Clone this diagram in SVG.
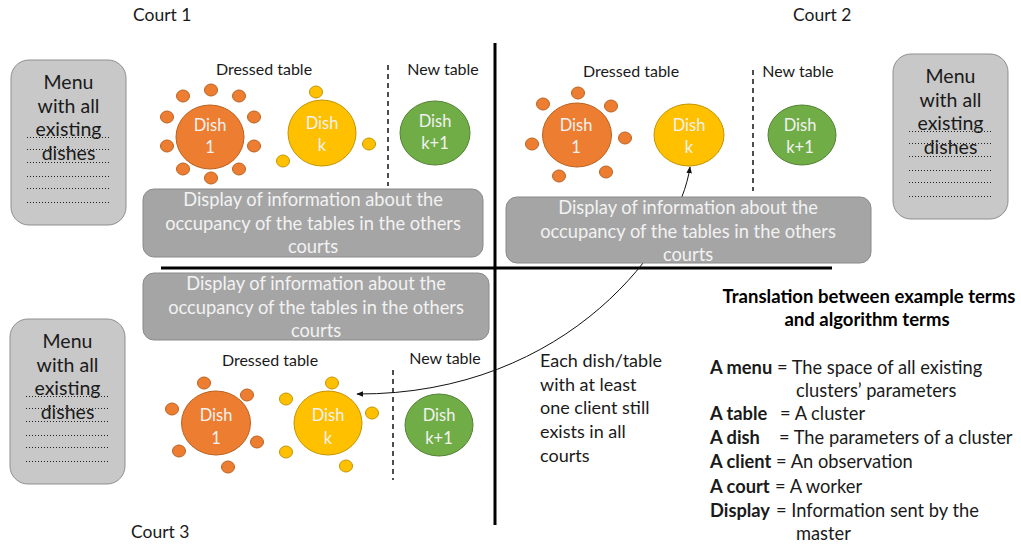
<svg xmlns="http://www.w3.org/2000/svg" width="1021" height="547" viewBox="0 0 1021 547">
  <defs>
    <style>
      text { font-family: Lato, "Liberation Sans", sans-serif; fill: #1a1a1a; }
      .court { font-size: 17.5px; }
      .menu-box { fill: #c8c8c8; stroke: #8f8f8f; stroke-width: 1; }
      .menu-txt { font-size: 19.5px; text-anchor: middle; }
      .dots { stroke: #222; stroke-width: 1; stroke-dasharray: 1 2; fill: none; }
      .display { fill: #a5a5a5; stroke: #8a8a8a; stroke-width: 1; }
      .display-txt { font-size: 18.3px; fill: #f2f2f2; text-anchor: middle; }
      .label { font-size: 16px; text-anchor: middle; }
      .split { stroke: #222; stroke-width: 1.6; stroke-dasharray: 5 4; }
      .orange { fill: #ed7d31; stroke: #b9611f; stroke-width: 1; }
      .yellow { fill: #ffc000; stroke: #c49400; stroke-width: 1; }
      .green { fill: #70ad47; stroke: #548235; stroke-width: 1; }
      .dish-txt { font-size: 16.5px; fill: #f2f2f2; text-anchor: middle; }
      .divider { stroke: #000; stroke-width: 3; }
      .link { fill: none; stroke: #111; stroke-width: 1; }
      .note { font-size: 18px; }
      .head { font-size: 18.5px; font-weight: bold; text-anchor: middle; fill: #000; }
      .term { font-size: 18.3px; }
      .term tspan.b { font-weight: bold; }
    </style>
    <marker id="head" viewBox="0 0 10 10" refX="9" refY="5" markerWidth="7" markerHeight="7" orient="auto-start-reverse" markerUnits="userSpaceOnUse">
      <path d="M0,1 L10,5 L0,9 Z" fill="#111"/>
    </marker>
    <g id="menu">
      <rect class="menu-box" x="0" y="0" width="115" height="165" rx="18"/>
      <text class="menu-txt" x="57.5" y="29">Menu</text>
      <text class="menu-txt" x="57.5" y="53">with all</text>
      <text class="menu-txt" x="57.5" y="76">existing</text>
      <text class="menu-txt" x="57.5" y="100">dishes</text>
      <path class="dots" d="M16,77.5 H98 M16,89.5 H98 M16,102.5 H98 M16,116.5 H98 M16,128.5 H98 M16,142.5 H98"/>
    </g>
  </defs>

  <rect width="1021" height="547" fill="#fff"/>

  <!-- court titles -->
  <text class="court" x="133" y="21">Court 1</text>
  <text class="court" x="793" y="21">Court 2</text>
  <text class="court" x="131" y="538">Court 3</text>

  <!-- quadrant dividers -->
  <g id="dividers">
    <line class="divider" x1="495" y1="43" x2="495" y2="525"/>
    <line class="divider" x1="161" y1="268" x2="832" y2="268"/>
  </g>

  <!-- menus -->
  <g id="menu-court1"><use href="#menu" transform="translate(11,60)"/></g>
  <g id="menu-court2"><use href="#menu" transform="translate(893,54)"/></g>
  <g id="menu-court3"><use href="#menu" transform="translate(10,319)"/></g>

  <!-- court 1 tables -->
  <g id="tables-court1">
    <text class="label" x="264" y="75">Dressed table</text>
    <text class="label" x="443" y="75">New table</text>
    <line class="split" x1="388" y1="65" x2="388" y2="186"/>
    <g id="c1-dish1">
      <ellipse class="orange" cx="210" cy="137" rx="34" ry="32"/>
      <ellipse class="orange" cx="183" cy="96" rx="6.5" ry="6"/>
      <ellipse class="orange" cx="211" cy="90" rx="6.5" ry="6"/>
      <ellipse class="orange" cx="239" cy="96" rx="6.5" ry="6"/>
      <ellipse class="orange" cx="167" cy="117" rx="6.5" ry="6"/>
      <ellipse class="orange" cx="254" cy="117" rx="6.5" ry="6"/>
      <ellipse class="orange" cx="167" cy="146" rx="6.5" ry="6"/>
      <ellipse class="orange" cx="254" cy="146" rx="6.5" ry="6"/>
      <ellipse class="orange" cx="183" cy="169" rx="6.5" ry="6"/>
      <ellipse class="orange" cx="211" cy="178" rx="6.5" ry="6"/>
      <ellipse class="orange" cx="239" cy="169" rx="6.5" ry="6"/>
      <text class="dish-txt" x="210" y="131">Dish</text>
      <text class="dish-txt" x="210" y="153">1</text>
    </g>
    <g id="c1-dishk">
      <ellipse class="yellow" cx="322" cy="133" rx="34" ry="33"/>
      <ellipse class="yellow" cx="316" cy="92" rx="6.5" ry="6"/>
      <ellipse class="yellow" cx="369" cy="144" rx="6.5" ry="6"/>
      <ellipse class="yellow" cx="283" cy="161" rx="6.5" ry="6"/>
      <text class="dish-txt" x="322" y="129">Dish</text>
      <text class="dish-txt" x="322" y="151">k</text>
    </g>
    <g id="c1-dishk1">
      <ellipse class="green" cx="435" cy="133" rx="35" ry="32"/>
      <text class="dish-txt" x="435" y="127">Dish</text>
      <text class="dish-txt" x="435" y="149">k+1</text>
    </g>
  </g>

  <!-- court 2 tables -->
  <g id="tables-court2">
    <text class="label" x="631" y="77">Dressed table</text>
    <text class="label" x="798" y="77">New table</text>
    <line class="split" x1="753" y1="70" x2="753" y2="191"/>
    <g id="c2-dish1">
      <ellipse class="orange" cx="577" cy="135" rx="34.5" ry="32"/>
      <ellipse class="orange" cx="578" cy="93" rx="6.5" ry="6"/>
      <ellipse class="orange" cx="543" cy="104" rx="6.5" ry="6"/>
      <ellipse class="orange" cx="611" cy="106" rx="6.5" ry="6"/>
      <ellipse class="orange" cx="625" cy="138" rx="6.5" ry="6"/>
      <ellipse class="orange" cx="532" cy="144" rx="6.5" ry="6"/>
      <ellipse class="orange" cx="559" cy="176" rx="6.5" ry="6"/>
      <ellipse class="orange" cx="606" cy="172" rx="6.5" ry="6"/>
      <text class="dish-txt" x="576" y="131">Dish</text>
      <text class="dish-txt" x="576" y="153">1</text>
    </g>
    <g id="c2-dishk">
      <ellipse class="yellow" cx="689" cy="135" rx="35" ry="31"/>
      <text class="dish-txt" x="689" y="131">Dish</text>
      <text class="dish-txt" x="689" y="153">k</text>
    </g>
    <g id="c2-dishk1">
      <ellipse class="green" cx="802" cy="135" rx="34" ry="30"/>
      <text class="dish-txt" x="800" y="131">Dish</text>
      <text class="dish-txt" x="800" y="153">k+1</text>
    </g>
  </g>

  <!-- court 3 tables -->
  <g id="tables-court3">
    <text class="label" x="270" y="366">Dressed table</text>
    <text class="label" x="445" y="364">New table</text>
    <line class="split" x1="393" y1="370" x2="393" y2="480"/>
    <g id="c3-dish1">
      <ellipse class="orange" cx="216" cy="423" rx="34.5" ry="32"/>
      <ellipse class="orange" cx="204" cy="383" rx="6.5" ry="6"/>
      <ellipse class="orange" cx="247" cy="395" rx="6.5" ry="6"/>
      <ellipse class="orange" cx="172" cy="409" rx="6.5" ry="6"/>
      <ellipse class="orange" cx="257" cy="442" rx="6.5" ry="6"/>
      <ellipse class="orange" cx="179" cy="451" rx="6.5" ry="6"/>
      <ellipse class="orange" cx="228" cy="467" rx="6.5" ry="6"/>
      <text class="dish-txt" x="216" y="421">Dish</text>
      <text class="dish-txt" x="216" y="444">1</text>
    </g>
    <g id="c3-dishk">
      <ellipse class="yellow" cx="328" cy="423" rx="34" ry="32"/>
      <ellipse class="yellow" cx="332" cy="383" rx="6.5" ry="6"/>
      <ellipse class="yellow" cx="286" cy="399" rx="6.5" ry="6"/>
      <ellipse class="yellow" cx="372" cy="413" rx="6.5" ry="6"/>
      <ellipse class="yellow" cx="286" cy="452" rx="6.5" ry="6"/>
      <ellipse class="yellow" cx="346" cy="466" rx="6.5" ry="6"/>
      <text class="dish-txt" x="328" y="421">Dish</text>
      <text class="dish-txt" x="328" y="444">k</text>
    </g>
    <g id="c3-dishk1">
      <ellipse class="green" cx="439" cy="425" rx="34" ry="31"/>
      <text class="dish-txt" x="439" y="421">Dish</text>
      <text class="dish-txt" x="439" y="444">k+1</text>
    </g>
  </g>

  <!-- connector between the shared dish k of court 2 and court 3 -->
  <g id="connectors">
    <path class="link" d="M690,167 C680,240 570,395 357,394" marker-start="url(#head)" marker-end="url(#head)"/>
  </g>

  <!-- master information panels -->
  <g id="display-court1">
    <rect class="display" x="143" y="189" width="340" height="68" rx="11"/>
    <text class="display-txt" x="313" y="206">Display of information about the</text>
    <text class="display-txt" x="313" y="230">occupancy of the tables in the others</text>
    <text class="display-txt" x="313" y="253">courts</text>
  </g>
  <g id="display-court2">
    <rect class="display" x="506" y="197" width="365" height="66" rx="11"/>
    <text class="display-txt" x="688" y="214">Display of information about the</text>
    <text class="display-txt" x="688" y="238">occupancy of the tables in the others</text>
    <text class="display-txt" x="688" y="261">courts</text>
  </g>
  <g id="display-court3">
    <rect class="display" x="143" y="273" width="346" height="67" rx="11"/>
    <text class="display-txt" x="316" y="290">Display of information about the</text>
    <text class="display-txt" x="316" y="314">occupancy of the tables in the others</text>
    <text class="display-txt" x="316" y="337">courts</text>
  </g>

  <!-- note -->
  <g id="note">
    <text class="note" x="540" y="367">Each dish/table</text>
    <text class="note" x="540" y="391">with at least</text>
    <text class="note" x="540" y="414">one client still</text>
    <text class="note" x="540" y="438">exists in all</text>
    <text class="note" x="540" y="462">courts</text>
  </g>

  <!-- glossary -->
  <g id="glossary">
    <text class="head" x="869" y="303">Translation between example terms</text>
    <text class="head" x="867" y="326">and algorithm terms</text>
    <text class="term" x="710" y="374"><tspan class="b">A menu</tspan> = The space of all existing</text>
    <text class="term" x="796" y="397">clusters’ parameters</text>
    <text class="term" x="710" y="420"><tspan class="b">A table</tspan></text>
    <text class="term" x="780" y="420">= A cluster</text>
    <text class="term" x="710" y="444"><tspan class="b">A dish</tspan></text>
    <text class="term" x="779" y="444">= The parameters of a cluster</text>
    <text class="term" x="710" y="468"><tspan class="b">A client</tspan></text>
    <text class="term" x="776" y="468">= An observation</text>
    <text class="term" x="710" y="493"><tspan class="b">A court</tspan></text>
    <text class="term" x="775" y="493">= A worker</text>
    <text class="term" x="710" y="517"><tspan class="b">Display</tspan></text>
    <text class="term" x="776" y="517">= Information sent by the</text>
    <text class="term" x="796" y="540">master</text>
  </g>
</svg>
